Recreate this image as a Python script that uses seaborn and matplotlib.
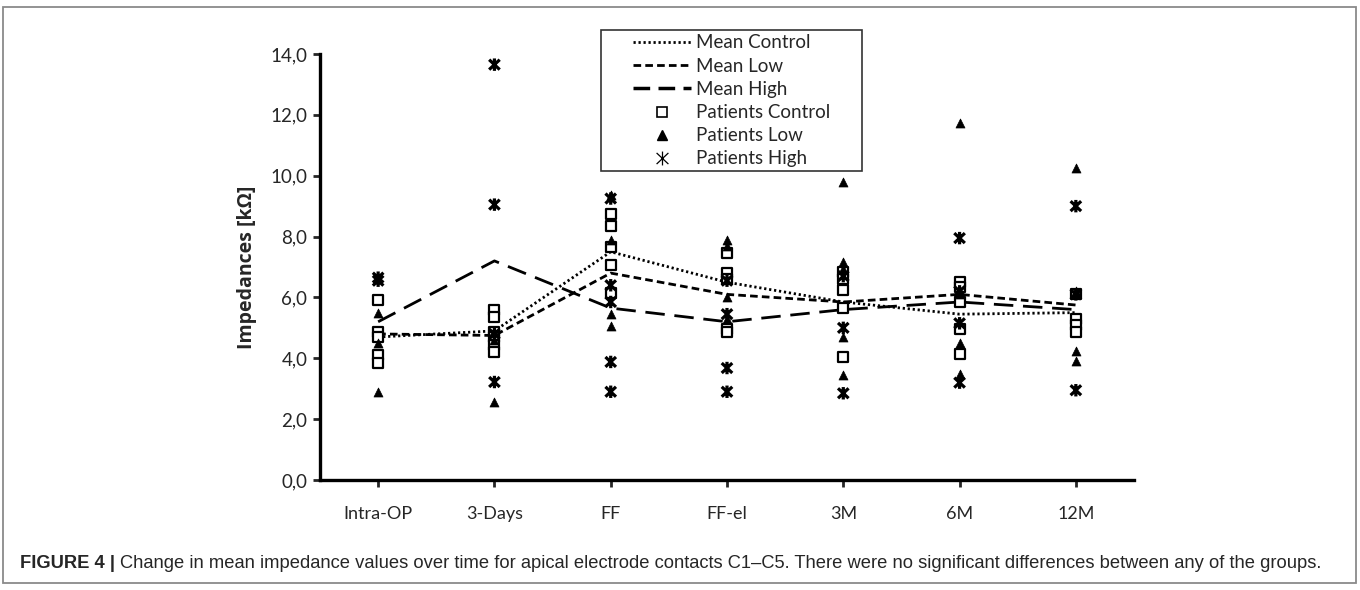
import matplotlib
matplotlib.use("Agg")
import matplotlib.pyplot as plt
from matplotlib.lines import Line2D
from matplotlib.patches import Rectangle
from matplotlib.path import Path
from matplotlib.ticker import FuncFormatter
import seaborn as sns
import pandas as pd

# ---------------- data ----------------
timepoints = ["Intra-OP", "3-Days", "FF", "FF-el", "3M", "6M", "12M"]

mean_control = [4.70, 4.90, 7.50, 6.50, 5.85, 5.45, 5.50]
mean_low = [4.80, 4.75, 6.80, 6.10, 5.85, 6.10, 5.75]
mean_high = [5.20, 7.20, 5.65, 5.20, 5.60, 5.85, 5.60]

patients_control = [
    [5.90, 4.85, 4.70, 4.10, 3.85],
    [5.60, 5.35, 4.85, 4.70, 4.45, 4.20],
    [8.75, 8.35, 7.65, 7.05, 6.15],
    [7.45, 6.80, 6.60, 4.95, 4.85],
    [6.85, 6.60, 6.25, 5.65, 4.05],
    [6.50, 6.35, 5.85, 4.95, 4.15],
    [6.10, 5.30, 5.10, 4.85],
]
patients_low = [
    [5.50, 4.50, 2.90],
    [4.90, 4.60, 2.55],
    [9.35, 7.90, 5.45, 5.05],
    [7.90, 7.70, 6.00, 5.30],
    [9.80, 7.15, 6.95, 4.70, 3.45],
    [11.74, 6.10, 4.50, 3.50],
    [10.26, 6.20, 4.25, 3.90],
]
patients_high = [
    [6.65, 6.55],
    [13.65, 9.05, 4.80, 3.22],
    [9.25, 6.40, 5.85, 3.88, 2.90],
    [6.55, 5.45, 3.68, 2.90],
    [6.70, 5.00, 2.85],
    [7.95, 6.20, 5.15, 3.20],
    [9.00, 6.10, 2.95],
]

yticks = [0, 2, 4, 6, 8, 10, 12, 14]
ylabel = "Impedances [kΩ]"
legend_labels = ["Mean Control", "Mean Low", "Mean High",
                 "Patients Control", "Patients Low", "Patients High"]
caption_bold = "FIGURE 4 | "
caption_text = ("Change in mean impedance values over time for apical electrode contacts C1\u2013C5. "
                "There were no significant differences between any of the groups.")

# ---------------- tables ----------------
means_df = pd.DataFrame({
    "time": timepoints * 3,
    "value": mean_control + mean_low + mean_high,
    "group": ["Mean Control"] * 7 + ["Mean Low"] * 7 + ["Mean High"] * 7,
})


def long(vals):
    rows = []
    for t, vs in zip(timepoints, vals):
        for v in vs:
            rows.append({"time": t, "value": v})
    return pd.DataFrame(rows)


pc = long(patients_control)
pl = long(patients_low)
ph = long(patients_high)

order_idx = {t: i for i, t in enumerate(timepoints)}
for d in (means_df, pc, pl, ph):
    d["x"] = d["time"].map(order_idx)

# asterisk marker: vertical bar plus an X
ast = Path([(0, -1), (0, 1), (-0.85, -0.8), (0.85, 0.8), (-0.85, 0.8), (0.85, -0.8)],
           [Path.MOVETO, Path.LINETO, Path.MOVETO, Path.LINETO, Path.MOVETO, Path.LINETO])

# ---------------- style ----------------
sns.set_theme(style="white")
plt.rcParams["font.family"] = ["Lato", "DejaVu Sans"]
plt.rcParams["lines.scale_dashes"] = False

W, H = 1360, 590
fig = plt.figure(figsize=(W / 100, H / 100), dpi=100)
ax = fig.add_axes([320 / W, 1 - 480 / H, (1134 - 320) / W, (480 - 54) / H])

dash_map = {"Mean Control": (1.6, 2.0), "Mean Low": (5.5, 3.0), "Mean High": (14, 7)}

sns.lineplot(data=means_df, x="x", y="value", style="group",
             dashes=dash_map, color="black", linewidth=2.0, ax=ax,
             legend=False, estimator=None, sort=False)

sns.scatterplot(data=pc, x="x", y="value", marker="s", s=50,
                facecolor="white", edgecolor="black", linewidth=1.6,
                ax=ax, legend=False, zorder=3)
sns.scatterplot(data=pl, x="x", y="value", marker="^", s=42,
                color="black", edgecolor="black", linewidth=0.5,
                ax=ax, legend=False, zorder=4)
sns.scatterplot(data=ph, x="x", y="value", marker=ast, s=80,
                facecolor="none", edgecolor="black", linewidth=2.3,
                ax=ax, legend=False, zorder=4)

# ---------------- axes ----------------
ax.set_xlim(-0.5, len(timepoints) - 0.5)
ax.set_ylim(0, 14)
ax.set_xticks(range(len(timepoints)))
ax.set_xticklabels(timepoints, fontsize=13)
ax.set_yticks(yticks)
ax.yaxis.set_major_formatter(FuncFormatter(lambda v, p: f"{v:.1f}".replace(".", ",")))
ax.tick_params(axis="y", labelsize=13.5, length=5, width=2, direction="out", pad=4, left=True)
ax.tick_params(axis="x", labelsize=13, length=5, width=2, direction="out", pad=14, bottom=True)
ax.set_xlabel("")
ax.set_ylabel(ylabel, fontsize=14, labelpad=10,
              fontdict={"family": ["Open Sans", "DejaVu Sans"], "weight": "bold"})
for s in ["top", "right"]:
    ax.spines[s].set_visible(False)
for s in ["left", "bottom"]:
    ax.spines[s].set_linewidth(2.4)
    ax.spines[s].set_color("black")
ax.grid(False)

# ---------------- legend ----------------
handles = [
    Line2D([], [], color="black", lw=2.0, dashes=dash_map["Mean Control"]),
    Line2D([], [], color="black", lw=2.0, dashes=dash_map["Mean Low"]),
    Line2D([], [], color="black", lw=2.5, dashes=(12, 6)),
    Line2D([], [], ls="none", marker="s", ms=6.5, mfc="white", mec="black", mew=1.2),
    Line2D([], [], ls="none", marker="^", ms=6.5, color="black"),
    Line2D([], [], ls="none", marker=ast, ms=10, mfc="none", mec="black", mew=0.9),
]
fig.patches.append(Rectangle((601 / W, 1 - 171 / H), (862 - 601) / W, (171 - 30) / H,
                             transform=fig.transFigure, fill=True, facecolor="white",
                             edgecolor="#333333", linewidth=1.2, zorder=5))
leg = fig.legend(handles, legend_labels, loc="upper left",
                 bbox_to_anchor=(633 / W, 1 - 34.5 / H),
                 frameon=False, fontsize=13.5, handlelength=3.1, handletextpad=0.25,
                 borderpad=0.0, labelspacing=0.33, borderaxespad=0)
leg.set_zorder(6)

# ---------------- frame and caption ----------------
fig.patches.append(Rectangle((3 / W, 1 - 583 / H), (1356 - 3) / W, (583 - 7) / H,
                             transform=fig.transFigure, fill=False,
                             edgecolor="#8a8a8a", linewidth=1.3))

cap_family = ["Liberation Sans", "DejaVu Sans"]
t1 = fig.text(20 / W, 1 - 563 / H, caption_bold, fontsize=13.2, fontweight="bold",
              family=cap_family, va="center", ha="left")
fig.canvas.draw()
bb = t1.get_window_extent()
fig.text(bb.x1 / W, 1 - 563 / H, caption_text, fontsize=13.2,
         family=cap_family, va="center", ha="left")

fig.savefig("out.png", dpi=100)
